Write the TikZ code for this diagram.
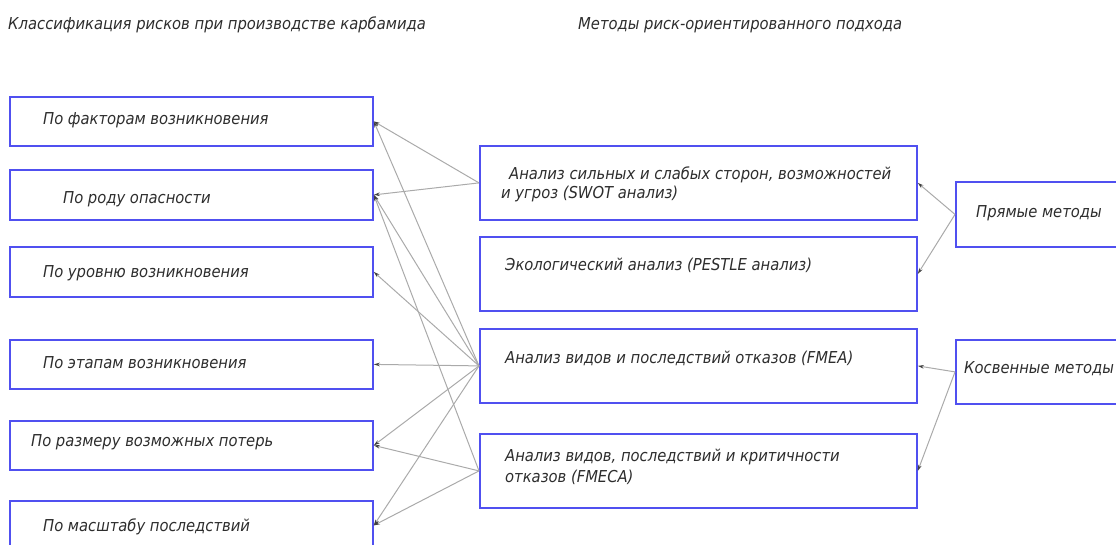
\documentclass[tikz,border=0pt]{standalone}
\usepackage{fontspec}
\setmainfont{DejaVu Sans Condensed}
\usetikzlibrary{arrows.meta}
\definecolor{boxblue}{RGB}{80,80,240}
\definecolor{inkgray}{RGB}{45,45,45}
\definecolor{linkgray}{RGB}{170,170,170}
\tikzset{
  frame/.style={draw=boxblue, line width=1.8pt, inner sep=0pt, anchor=north west},
  label/.style={anchor=west, inner sep=0pt, text=inkgray, font=\fontsize{16.4}{19}\selectfont\itshape},
  title/.style={anchor=west, inner sep=0pt, text=inkgray, font=\fontsize{16.4}{19}\selectfont\itshape},
  link/.style={draw=linkgray, line width=1pt, -{Stealth[length=6pt,width=3.6pt,color=black!75]}},
}
\begin{document}
\begin{tikzpicture}[x=1pt,y=-1pt]
\useasboundingbox (0,0) rectangle (1116,545);

% column headings
\node[title] (h1) at (8,25) {Классификация рисков при производстве карбамида};
\node[title] (h2) at (578,25) {Методы риск-ориентированного подхода};

% risk classes
\node[frame, minimum width=363pt, minimum height=49pt] (L1) at (9,96) {};
\node[frame, minimum width=363pt, minimum height=50pt] (L2) at (9,169) {};
\node[frame, minimum width=363pt, minimum height=50pt] (L3) at (9,246) {};
\node[frame, minimum width=363pt, minimum height=49pt] (L4) at (9,339) {};
\node[frame, minimum width=363pt, minimum height=49pt] (L5) at (9,420) {};
\node[frame, minimum width=363pt, minimum height=49pt] (L6) at (9,500) {};

\node[label] (t1) at (43,120) {По факторам возникновения};
\node[label] (t2) at (63,199) {По роду опасности};
\node[label] (t3) at (43,273) {По уровню возникновения};
\node[label] (t4) at (43,363) {По этапам возникновения};
\node[label] (t5) at (31,442) {По размеру возможных потерь};
\node[label] (t6) at (43,527) {По масштабу последствий};

% methods
\node[frame, minimum width=437pt, minimum height=74pt] (M1) at (479,145) {};
\node[frame, minimum width=437pt, minimum height=74pt] (M2) at (479,236) {};
\node[frame, minimum width=437pt, minimum height=74pt] (M3) at (479,328) {};
\node[frame, minimum width=437pt, minimum height=74pt] (M4) at (479,433) {};

\node[label] (m1a) at (509,175) {Анализ сильных и слабых сторон, возможностей};
\node[label] (m1b) at (501,194) {и угроз (SWOT анализ)};
\node[label] (m2) at (505,265) {Экологический анализ (PESTLE анализ)};
\node[label] (m3) at (505,358) {Анализ видов и последствий отказов (FMEA)};
\node[label] (m4a) at (505,457) {Анализ видов, последствий и критичности};
\node[label] (m4b) at (505,477) {отказов (FMECA)};

% method groups
\node[frame, minimum width=170pt, minimum height=65pt] (P1) at (955,181) {};
\node[frame, minimum width=170pt, minimum height=64pt] (P2) at (955,339) {};
\node[label] (p1) at (976,213) {Прямые методы};
\node[label] (p2) at (964,369) {Косвенные методы};

% links from methods to risk classes
\draw[link] (M1.west) -- (L1.east);
\draw[link] (M1.west) -- (L2.east);
\draw[link] (M3.west) -- (L1.east);
\draw[link] (M3.west) -- (L2.east);
\draw[link] (M3.west) -- (L3.east);
\draw[link] (M3.west) -- (L4.east);
\draw[link] (M3.west) -- (L5.east);
\draw[link] (M3.west) -- (L6.east);
\draw[link] (M4.west) -- (L2.east);
\draw[link] (M4.west) -- (L5.east);
\draw[link] (M4.west) -- (L6.east);

% links from groups to methods
\draw[link] (P1.west) -- (M1.east);
\draw[link] (P1.west) -- (M2.east);
\draw[link] (P2.west) -- (M3.east);
\draw[link] (P2.west) -- (M4.east);
\end{tikzpicture}
\end{document}
